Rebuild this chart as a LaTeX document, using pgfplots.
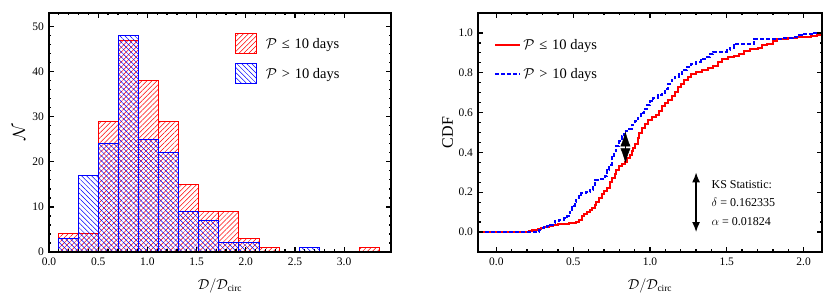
\documentclass[border=0pt]{standalone}
\usepackage{amsmath}
\usepackage{fontspec}
\setmainfont{Liberation Serif}
\usepackage{pgfplots}
\pgfplotsset{compat=1.18}
\usetikzlibrary{patterns.meta,arrows.meta}
\pgfplotsset{
  myframe/.style={
    scale only axis, anchor=south west, height=239pt,
    axis on top,
    axis line style={line width=1.8pt},
    tick align=inside,
    major tick length=5pt, minor tick length=2.5pt,
    every tick/.style={black, line width=1.3pt},
    tick label style={font=\fontsize{11.5}{12}\selectfont},
    /pgf/number format/assume math mode=true,
    xticklabel style={yshift=-2pt, /pgf/number format/.cd, fixed, fixed zerofill, precision=1},
    yticklabel style={xshift=-1.5pt},
    xlabel style={at={(axis description cs:0.5,-0.142)}, anchor=center, font=\fontsize{13.5}{14}\selectfont},
    ylabel style={at={(axis description cs:-0.088,0.5)}, anchor=center, font=\fontsize{16}{17}\selectfont},
    legend cell align=left,
  },
  boxlegend/.style={legend image code/.code={\draw[##1] (0pt,-10pt) rectangle (21pt,10pt); \path[draw=none,fill=none,pattern=none] (0pt,0pt) -- (28pt,0pt);}},
  linelegend/.style={legend image code/.code={\draw[##1] (0pt,0pt) -- (25pt,0pt);}},
}
\begin{document}
\begin{tikzpicture}
\path[use as bounding box] (0,0) rectangle (830pt,307pt);
% ---------------- Histogram ----------------
\begin{axis}[myframe, at={(49pt,55pt)}, width=342pt,
  xmin=0, xmax=3.476, ymin=0, ymax=53,
  xtick={0,0.5,1,1.5,2,2.5,3}, minor x tick num=4,
  ytick={0,10,20,30,40,50}, minor y tick num=4,
  xlabel={$\mathcal{D}/\mathcal{D}_{\text{circ}}$},
  ylabel={$\mathcal{N}$},
  legend style={at={(axis description cs:0.544,0.916)}, anchor=north west, draw=none, fill=none,
    font=\fontsize{14.5}{15}\selectfont, row sep=9pt, inner sep=0pt},
]
\addplot[ybar interval, draw=red, line width=1pt,
  pattern={Lines[angle=45,distance=3.5pt,line width=0.5pt]}, pattern color=red, boxlegend]
coordinates {(0.095,4)(0.299,4)(0.503,29)(0.707,47)(0.911,38)(1.115,29)(1.319,15)(1.523,9)(1.727,9)(1.931,3)(2.135,1)(2.339,0)(2.543,0)(2.747,0)(2.951,0)(3.155,1)(3.359,1)};
\addlegendentry{$\mathcal{P}$\,\,≤\,\,10 days}
\addplot[ybar interval, draw=blue, line width=1pt,
  pattern={Lines[angle=-45,distance=3.5pt,line width=0.5pt]}, pattern color=blue, boxlegend]
coordinates {(0.095,3)(0.299,17)(0.503,24)(0.707,48)(0.911,25)(1.115,22)(1.319,9)(1.523,7)(1.727,2)(1.931,2)(2.135,0)(2.339,0)(2.543,1)(2.747,1)};
\addlegendentry{$\mathcal{P}$\,\,>\,\,10 days}
\end{axis}
% ---------------- CDF ----------------
\begin{axis}[myframe, at={(478pt,55pt)}, width=344pt,
  xmin=-0.12, xmax=2.12, ymin=-0.1, ymax=1.1,
  xtick={0,0.5,1,1.5,2}, minor x tick num=4,
  ytick={0,0.2,0.4,0.6,0.8,1}, minor y tick num=3,
  yticklabel style={/pgf/number format/.cd, fixed, fixed zerofill, precision=1},
  xlabel={$\mathcal{D}/\mathcal{D}_{\text{circ}}$},
  ylabel={CDF},
  legend style={at={(axis description cs:0.047,0.90)}, anchor=north west, draw=none, fill=none,
    font=\fontsize{14.5}{15}\selectfont, row sep=14pt, inner sep=0pt},
]
\addplot[color=red, line width=2pt, const plot mark left, linelegend]
coordinates {(-0.15,0)(0.21,0.005)(0.23,0.011)(0.27,0.016)(0.29,0.021)(0.31,0.026)(0.34,0.032)(0.37,0.037)(0.40,0.042)(0.47,0.048)(0.52,0.053)(0.54,0.063)(0.56,0.079)(0.57,0.090)(0.59,0.101)(0.61,0.111)(0.62,0.122)(0.64,0.138)(0.65,0.153)(0.67,0.169)(0.69,0.190)(0.70,0.206)(0.72,0.222)(0.74,0.249)(0.75,0.270)(0.77,0.291)(0.78,0.312)(0.80,0.333)(0.82,0.344)(0.84,0.354)(0.85,0.370)(0.87,0.386)(0.88,0.407)(0.89,0.423)(0.90,0.444)(0.92,0.471)(0.93,0.497)(0.95,0.524)(0.97,0.545)(0.99,0.561)(1.01,0.577)(1.04,0.587)(1.06,0.608)(1.08,0.635)(1.10,0.646)(1.12,0.661)(1.14,0.683)(1.16,0.704)(1.18,0.730)(1.20,0.746)(1.22,0.762)(1.25,0.778)(1.27,0.794)(1.30,0.804)(1.34,0.815)(1.38,0.825)(1.41,0.836)(1.44,0.852)(1.47,0.868)(1.51,0.878)(1.55,0.884)(1.58,0.894)(1.61,0.910)(1.65,0.921)(1.70,0.926)(1.73,0.937)(1.76,0.946)(1.80,0.958)(1.83,0.968)(1.90,0.974)(1.96,0.979)(2.05,0.984)(2.09,0.989)(2.15,0.989)};
\addlegendentry{$\mathcal{P}$\,\,≤\,\,10 days}
\addplot[color=blue, line width=2pt, dash pattern=on 4pt off 2pt, const plot mark left, linelegend]
coordinates {(-0.15,0)(0.28,0.0125)(0.29,0.019)(0.31,0.025)(0.33,0.031)(0.35,0.038)(0.37,0.044)(0.38,0.056)(0.41,0.063)(0.44,0.069)(0.46,0.081)(0.47,0.094)(0.48,0.113)(0.49,0.131)(0.51,0.15)(0.52,0.169)(0.535,0.188)(0.55,0.194)(0.58,0.200)(0.61,0.213)(0.63,0.238)(0.645,0.263)(0.67,0.269)(0.71,0.281)(0.72,0.313)(0.735,0.338)(0.75,0.375)(0.765,0.406)(0.78,0.431)(0.80,0.456)(0.815,0.481)(0.83,0.506)(0.85,0.519)(0.88,0.538)(0.90,0.556)(0.92,0.575)(0.94,0.6)(0.96,0.619)(0.98,0.638)(1.00,0.656)(1.02,0.675)(1.05,0.688)(1.08,0.7)(1.10,0.719)(1.12,0.744)(1.14,0.763)(1.16,0.781)(1.19,0.794)(1.21,0.813)(1.24,0.831)(1.27,0.844)(1.30,0.856)(1.33,0.869)(1.36,0.881)(1.39,0.894)(1.41,0.906)(1.50,0.913)(1.52,0.925)(1.545,0.938)(1.56,0.944)(1.68,0.969)(1.87,0.975)(1.93,0.981)(1.97,0.988)(2.0,0.994)(2.07,1.0)(2.15,1.0)};
\addlegendentry{$\mathcal{P}$\,\,>\,\,10 days}
\draw[black, line width=0.5pt, {Latex[length=15pt,width=10pt]}-{Latex[length=15pt,width=10pt]}] (axis cs:0.84,0.345) -- (axis cs:0.84,0.506);
\draw[black, line width=1.5pt, {Latex[length=10pt,width=8pt]}-{Latex[length=10pt,width=8pt]}] (axis cs:1.30,0.0) -- (axis cs:1.30,0.30);
\node[anchor=west, align=left, font=\fontsize{12}{18.3}\selectfont, inner sep=0pt] at (axis cs:1.40,0.146) {KS Statistic:\\$\delta$ = 0.162335\\$\alpha$ = 0.01824};
\end{axis}
\end{tikzpicture}
\end{document}
